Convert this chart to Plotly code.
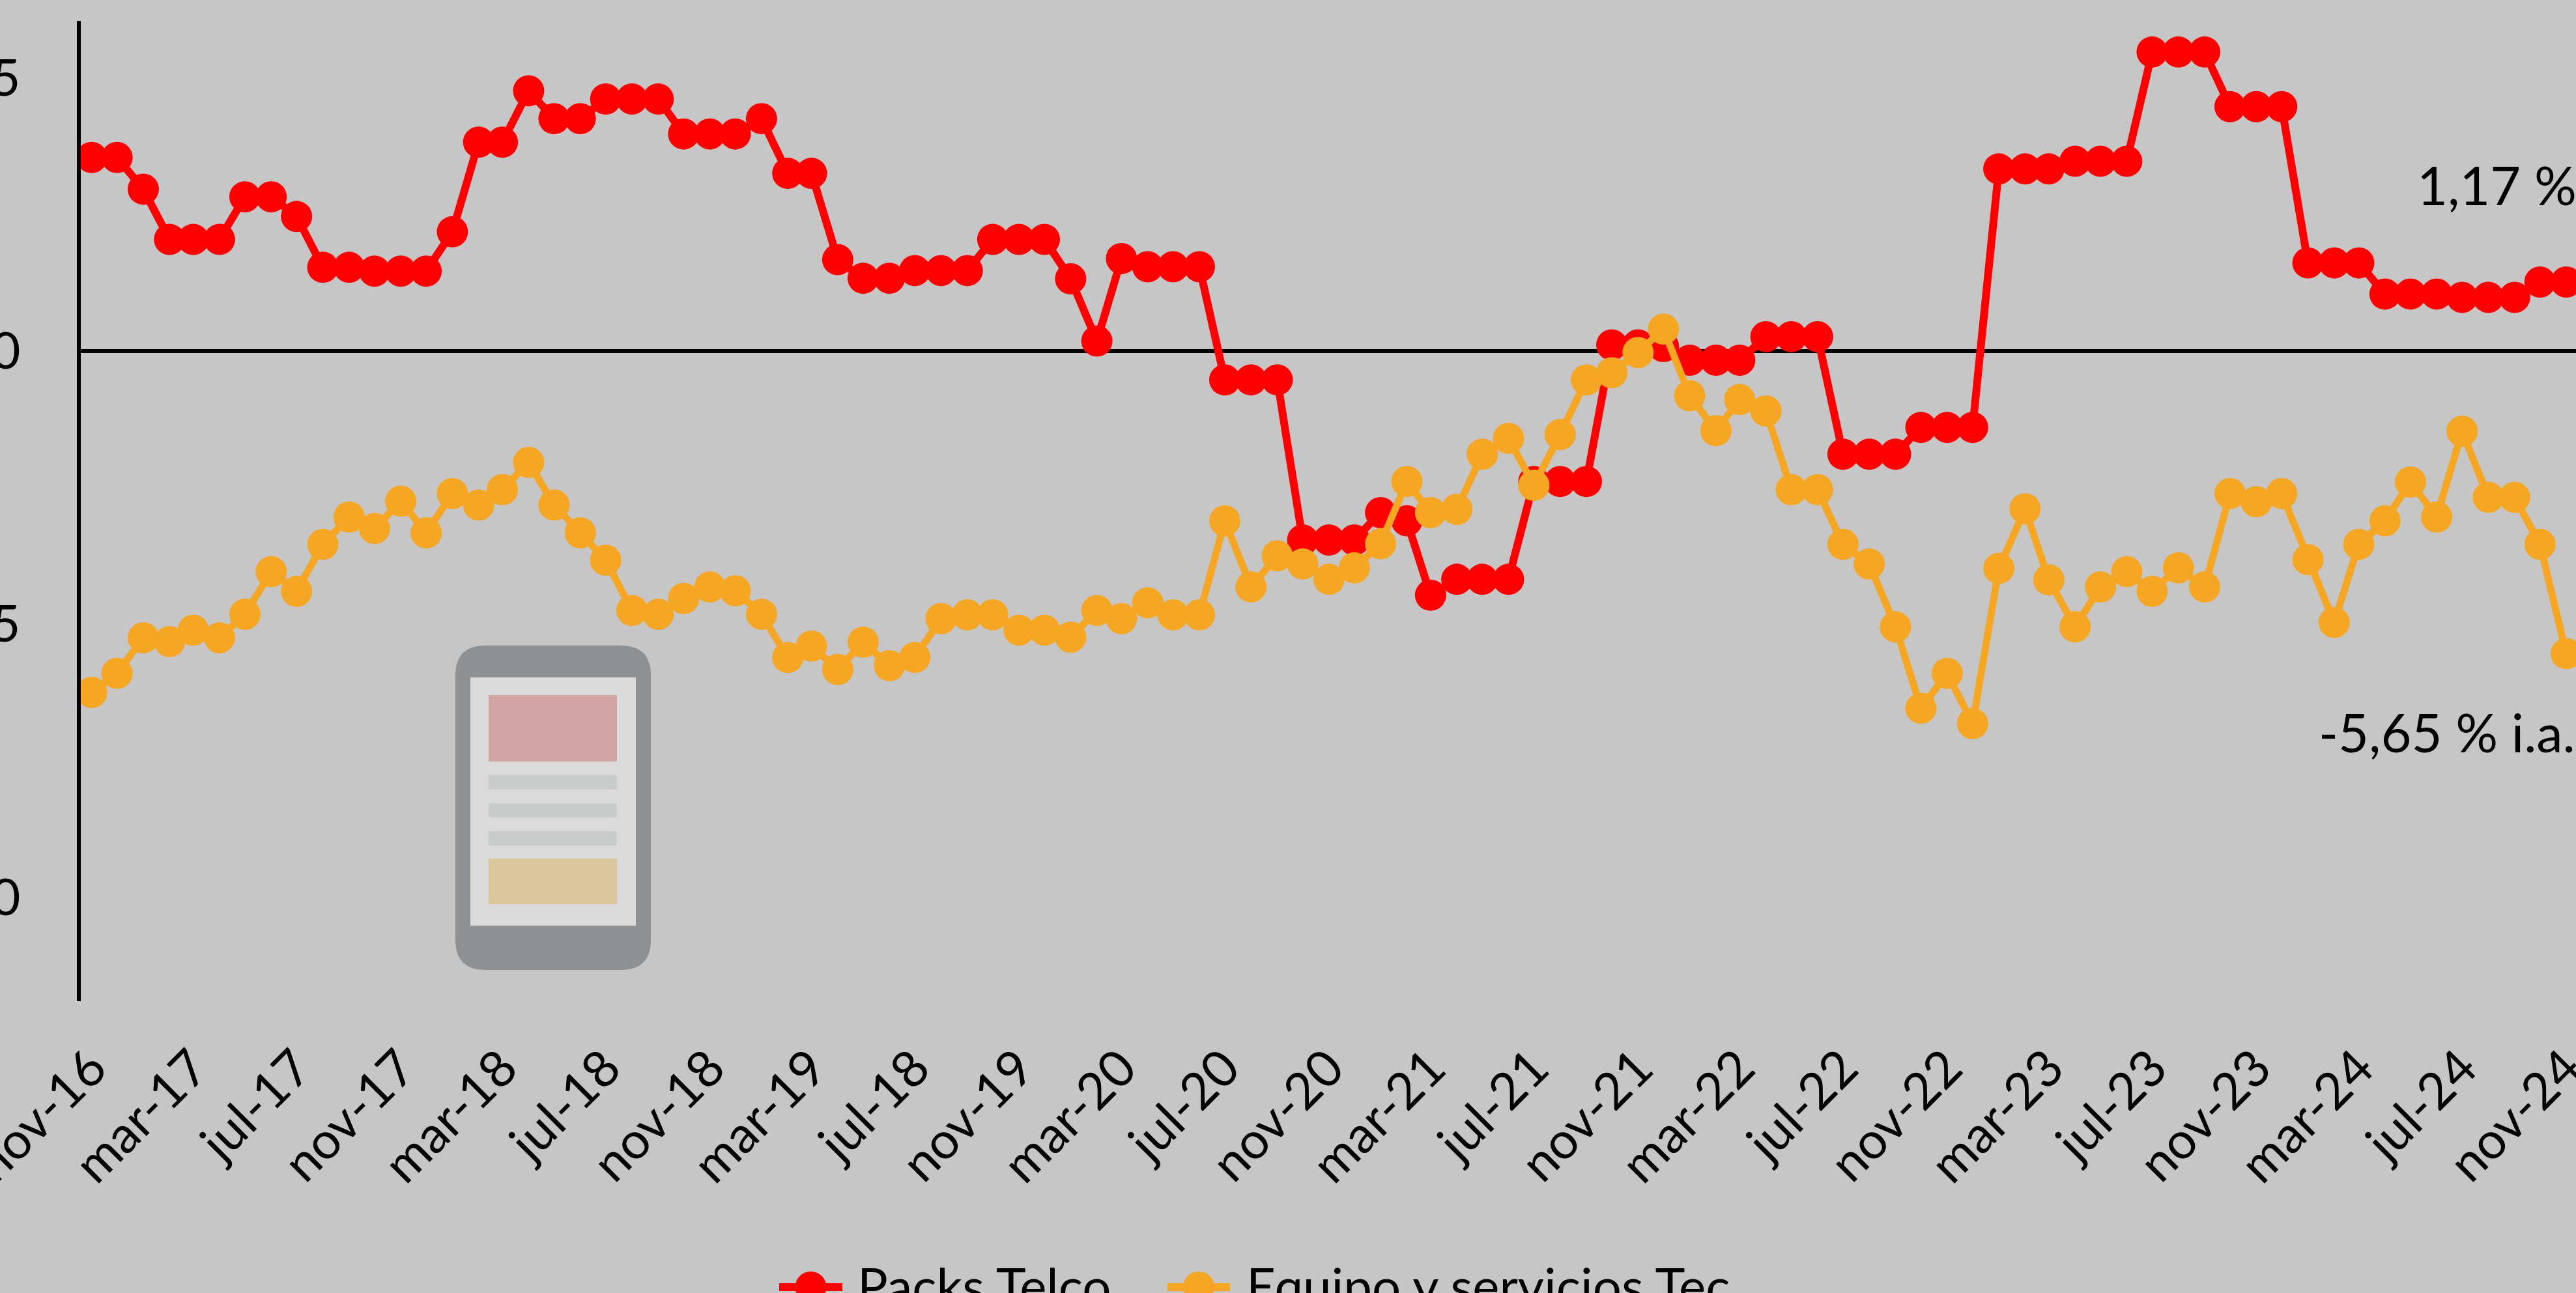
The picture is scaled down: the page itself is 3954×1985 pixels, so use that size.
import plotly.graph_objects as go
import pandas as pd

W, H = 3954, 1985
L, R, T, B = 124, 0, 32, 448

dates = pd.date_range("2016-11-01", "2024-11-01", freq="MS")

packs_telco = [
    3.54, 3.54, 2.96, 2.04, 2.04, 2.04, 2.82, 2.82, 2.46, 1.53, 1.53, 1.46, 1.46, 1.46, 2.18, 3.82, 3.82,
    4.76, 4.25, 4.25, 4.61, 4.61, 4.61, 3.97, 3.97, 3.97, 4.25, 3.25, 3.25, 1.67, 1.33, 1.33, 1.47, 1.47,
    1.47, 2.04, 2.04, 2.04, 1.32, 0.18, 1.69, 1.54, 1.54, 1.54, -0.53, -0.53, -0.53, -3.46, -3.46, -3.46,
    -2.96, -3.11, -4.47, -4.18, -4.18, -4.18, -2.39, -2.39, -2.39, 0.11, 0.11, 0.08, -0.17, -0.17, -0.17,
    0.26, 0.26, 0.26, -1.89, -1.89, -1.89, -1.40, -1.40, -1.40, 3.33, 3.33, 3.33, 3.47, 3.47, 3.47, 5.47,
    5.47, 5.47, 4.47, 4.47, 4.47, 1.61, 1.61, 1.61, 1.04, 1.04, 1.04, 0.98, 0.98, 0.98, 1.26, 1.26,
]
equipo_tec = [
    -6.25, -5.90, -5.25, -5.32, -5.11, -5.25, -4.82, -4.04, -4.40, -3.54, -3.04, -3.25, -2.75, -3.33, -2.61,
    -2.82, -2.54, -2.04, -2.82, -3.33, -3.83, -4.75, -4.82, -4.53, -4.32, -4.39, -4.82, -5.61, -5.40, -5.83,
    -5.33, -5.76, -5.61, -4.90, -4.83, -4.83, -5.11, -5.11, -5.24, -4.75, -4.90, -4.61, -4.83, -4.83, -3.11,
    -4.32, -3.75, -3.90, -4.18, -3.97, -3.53, -2.39, -2.96, -2.90, -1.89, -1.60, -2.46, -1.53, -0.53, -0.40,
    -0.03, 0.40, -0.82, -1.46, -0.89, -1.10, -2.54, -2.54, -3.54, -3.90, -5.05, -6.54, -5.90, -6.82, -3.98,
    -2.89, -4.19, -5.05, -4.32, -4.04, -4.40, -3.97, -4.32, -2.61, -2.76, -2.61, -3.82, -4.97, -3.54, -3.11,
    -2.40, -3.04, -1.47, -2.68, -2.68, -3.54, -5.54,
]
tick_dates = list(dates[::4])
tick_labels = ["nov-16", "mar-17", "jul-17", "nov-17", "mar-18", "jul-18", "nov-18", "mar-19", "jul-18",
               "nov-19", "mar-20", "jul-20", "nov-20", "mar-21", "jul-21", "nov-21", "mar-22", "jul-22",
               "nov-22", "mar-23", "jul-23", "nov-23", "mar-24", "jul-24", "nov-24"]
y_ticks = [5, 0, -5, -10]
series_names = ["Packs Telco", "Equipo y servicios Tec"]

RED, ORANGE, BG = "#FF0000", "#F5A623", "#C6C6C6"
FONT = "Lato"


def px(x):
    return (x - L) / (W - L - R)


def py(y):
    return 1 - (y - T) / (H - T - B)


def rect(x0, y0, x1, y1, color):
    return dict(type="rect", xref="paper", yref="paper", x0=px(x0), x1=px(x1), y0=py(y1), y1=py(y0),
                fillcolor=color, line_width=0)


fig = go.Figure()
for name, vals, color, lw in [(series_names[0], packs_telco, RED, 12), (series_names[1], equipo_tec, ORANGE, 11)]:
    fig.add_trace(go.Scatter(x=dates, y=vals, name=name, mode="lines+markers",
                             line=dict(color=color, width=lw),
                             marker=dict(color=color, size=48, line_width=0)))

shapes = []
# phone pictogram
x0, y0, x1, y1, r = 699, 991, 999, 1489, 46
path = (f"M {px(x0+r)} {py(y0)} L {px(x1-r)} {py(y0)} Q {px(x1)} {py(y0)} {px(x1)} {py(y0+r)} "
        f"L {px(x1)} {py(y1-r)} Q {px(x1)} {py(y1)} {px(x1-r)} {py(y1)} "
        f"L {px(x0+r)} {py(y1)} Q {px(x0)} {py(y1)} {px(x0)} {py(y1-r)} "
        f"L {px(x0)} {py(y0+r)} Q {px(x0)} {py(y0)} {px(x0+r)} {py(y0)} Z")
shapes.append(dict(type="path", xref="paper", yref="paper", path=path, fillcolor="#8E9193", line_width=0))
shapes.append(rect(722, 1040, 976, 1421, "#DADADA"))
shapes.append(rect(750, 1067, 947, 1169, "#D2A3A3"))
for a, b in [(1190, 1212), (1233, 1255), (1276, 1298)]:
    shapes.append(rect(750, a, 947, b, "#CACCCB"))
shapes.append(rect(750, 1318, 947, 1388, "#DBC69B"))

# legend keys
for xa, xb, color in [(1196, 1293, RED), (1792, 1888, ORANGE)]:
    shapes.append(rect(xa, 1970, xb, 1982, color))
    c = (xa + xb) / 2
    shapes.append(dict(type="circle", xref="paper", yref="paper", x0=px(c - 24), x1=px(c + 24),
                       y0=py(1976 + 24), y1=py(1976 - 24), fillcolor=color, line_width=0))

text_font = dict(family=FONT, size=78, color="#000000")
label_font = dict(family=FONT, size=81, color="#000000")
annots = [
    dict(text="1,17 %", x=px(3708), y=py(284), xref="paper", yref="paper", xanchor="left", yanchor="middle",
         showarrow=False, font=label_font),
    dict(text="-5,65 % i.a.", x=px(3557), y=py(1123), xref="paper", yref="paper", xanchor="left",
         yanchor="middle", showarrow=False, font=label_font),
    dict(text=series_names[0], x=px(1314), y=py(1973), xref="paper", yref="paper", xanchor="left",
         yanchor="middle", showarrow=False, font=text_font),
    dict(text=series_names[1], x=px(1911), y=py(1973), xref="paper", yref="paper", xanchor="left",
         yanchor="middle", showarrow=False, font=text_font),
]

fig.update_layout(
    width=W, height=H, autosize=False,
    margin=dict(l=L, r=R, t=T, b=B, pad=0, autoexpand=False),
    paper_bgcolor=BG, plot_bgcolor=BG,
    showlegend=False,
    font=dict(family=FONT, size=78, color="#000000"),
    shapes=shapes, annotations=annots,
    xaxis=dict(type="date", range=["2016-10-19 05:00", "2024-11-12 12:00"], showgrid=False, zeroline=False,
               showline=False, automargin=False, tickmode="array", tickvals=tick_dates, ticktext=tick_labels,
               tickangle=-45, ticks="", ticklabelstandoff=40, ticklabeloverflow="allow",
               tickfont=dict(family=FONT, size=78)),
    yaxis=dict(range=[-11.9, 6.04], showgrid=False, zeroline=True, zerolinecolor="#000000", zerolinewidth=6,
               showline=True, linecolor="#000000", linewidth=6, automargin=False, tickmode="array",
               tickvals=y_ticks, ticks="", ticklabelstandoff=71, ticklabeloverflow="allow",
               tickfont=dict(family=FONT, size=78)),
)

fig.write_html("out.html", config=dict(displayModeBar=False),
               post_script="document.body.style.margin='0';document.body.style.overflow='hidden';")
